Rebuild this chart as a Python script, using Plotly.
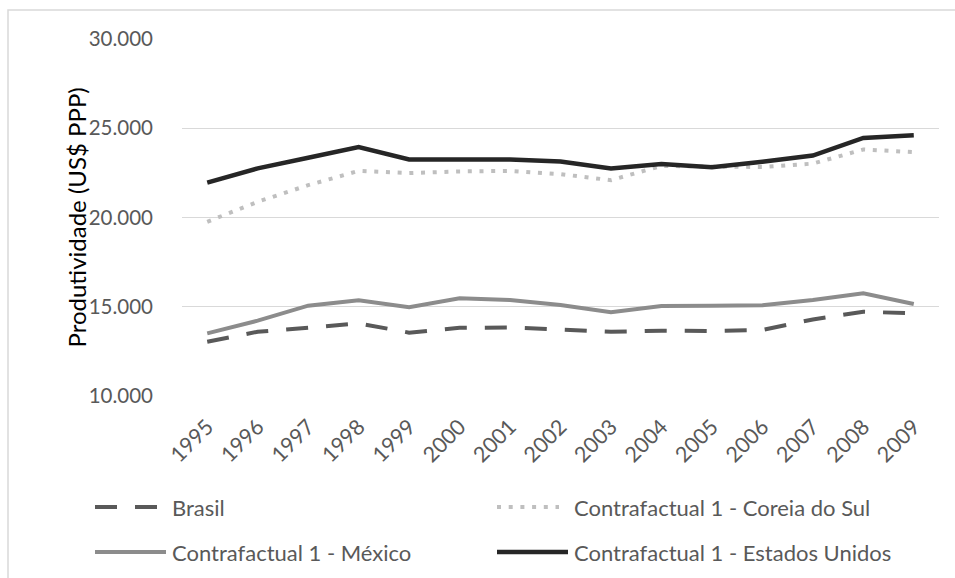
import plotly.graph_objects as go

years = [str(y) for y in range(1995, 2010)]

brasil = [13040, 13600, 13820, 14070, 13550, 13820, 13840, 13700,
          13600, 13660, 13640, 13700, 14290, 14720, 14630]
coreia = [19760, 20880, 21810, 22610, 22490, 22580, 22610, 22430,
          22090, 22890, 22850, 22830, 23020, 23810, 23660]
mexico = [13510, 14220, 15060, 15360, 14970, 15470, 15380, 15100,
          14690, 15040, 15050, 15080, 15375, 15750, 15150]
eua = [21950, 22750, 23350, 23950, 23250, 23250, 23250, 23140,
       22750, 23000, 22820, 23120, 23470, 24460, 24610]

y_ticks = [10000, 15000, 20000, 25000, 30000]
y_tick_labels = ["10.000", "15.000", "20.000", "25.000", "30.000"]

FONT = "Lato"
TICK_COLOR = "#595959"

W, H = 955, 578
L, R, T, B = 182, 16, 39, 182
PW, PH = W - L - R, H - T - B


def px_x(px):
    """Pixel column -> paper x."""
    return (px - L) / PW


def px_y(py):
    """Pixel row -> paper y."""
    return (H - B - py) / PH


# name, values, colour, width, dash, legend column, legend row, legend line length
series = [
    ("Brasil", brasil, "#595959", 4, "22px,18px", 0, 0, 62),
    ("Contrafactual 1 - Coreia do Sul", coreia, "#bfbfbf", 4, "4px,7.7px", 1, 0, 62),
    ("Contrafactual 1 - México", mexico, "#8c8c8c", 4, "solid", 0, 1, 71),
    ("Contrafactual 1 - Estados Unidos", eua, "#262626", 4.5, "solid", 1, 1, 71),
]

fig = go.Figure()
for name, values, color, width, dash, *_ in series:
    fig.add_trace(go.Scatter(
        x=years, y=values, name=name, mode="lines",
        line=dict(color=color, width=width, dash=dash),
        showlegend=False,
    ))

# Two-column legend below the plot
col_x = [95, 497]
row_y = [507, 552]
shapes = [dict(
    type="rect", xref="paper", yref="paper",
    x0=px_x(8), x1=px_x(W + 20), y0=px_y(H + 20), y1=px_y(10),
    line=dict(color="#d9d9d9", width=1.5), layer="below",
)]
annotations = [dict(
    text="Produtividade (US$ PPP)", textangle=-90,
    xref="paper", yref="paper", x=px_x(59), y=px_y(218),
    showarrow=False, font=dict(family=FONT, size=24, color="#000000"),
)]
for name, values, color, width, dash, col, row, length in series:
    x0 = col_x[col]
    y = row_y[row]
    shapes.append(dict(
        type="line", xref="paper", yref="paper",
        x0=px_x(x0), x1=px_x(x0 + length), y0=px_y(y), y1=px_y(y),
        line=dict(color=color, width=width, dash=dash),
    ))
    annotations.append(dict(
        text=name, xref="paper", yref="paper",
        x=px_x(x0 + 75), y=px_y(y), xanchor="left", yanchor="middle",
        showarrow=False, font=dict(family=FONT, size=22, color=TICK_COLOR),
    ))

fig.update_layout(
    width=W, height=H,
    margin=dict(l=L, r=R, t=T, b=B, autoexpand=False),
    paper_bgcolor="white", plot_bgcolor="white",
    font=dict(family=FONT, size=20, color=TICK_COLOR),
    showlegend=False,
    xaxis=dict(
        type="category", tickangle=-45, showgrid=False, automargin=False,
        showline=False, ticks="", zeroline=False, ticklabelstandoff=13,
        tickfont=dict(family=FONT, size=21.5, color=TICK_COLOR),
        range=[-0.5, 14.5],
    ),
    yaxis=dict(
        range=[10000, 30000], tickvals=y_ticks, ticktext=y_tick_labels,
        showgrid=True, gridcolor="#d9d9d9", gridwidth=1, automargin=False,
        zeroline=False, showline=False, ticks="", ticklabelstandoff=28,
        tickfont=dict(family=FONT, size=20.5, color=TICK_COLOR),
    ),
    annotations=annotations,
    shapes=shapes,
)

fig.write_html("out.html")
